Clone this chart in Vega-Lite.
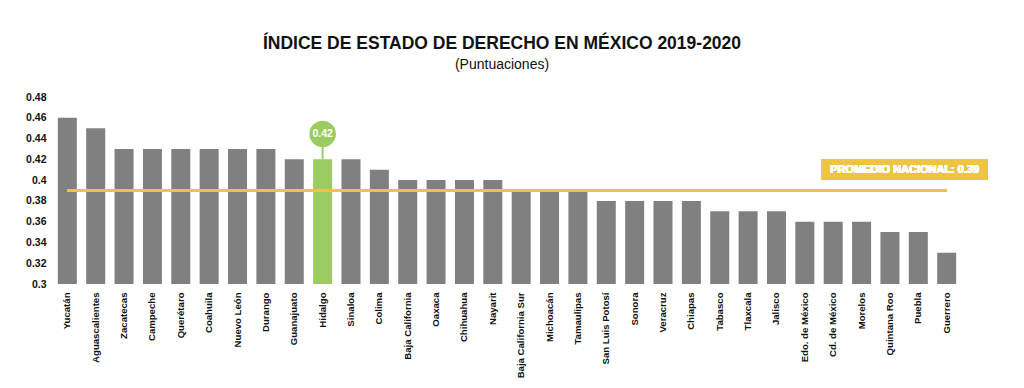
{
  "$schema": "https://vega.github.io/schema/vega-lite/v6.json",
  "autosize": "none",
  "width": 908,
  "height": 187,
  "padding": {"left": 53, "top": 97, "right": 63, "bottom": 104},
  "background": "white",
  "title": {
    "text": "ÍNDICE DE ESTADO DE DERECHO EN MÉXICO 2019-2020",
    "subtitle": "(Puntuaciones)",
    "font": "Liberation Sans",
    "fontSize": 17.5,
    "fontWeight": "bold",
    "color": "#111111",
    "subtitleFont": "Liberation Sans",
    "subtitleFontSize": 14,
    "subtitleColor": "#111111",
    "subtitlePadding": 6,
    "anchor": "middle",
    "dx": -5,
    "offset": 20
  },
  "data": {
    "values": [
      {"estado": "Yucatán", "valor": 0.46},
      {"estado": "Aguascalientes", "valor": 0.45},
      {"estado": "Zacatecas", "valor": 0.43},
      {"estado": "Campeche", "valor": 0.43},
      {"estado": "Querétaro", "valor": 0.43},
      {"estado": "Coahuila", "valor": 0.43},
      {"estado": "Nuevo León", "valor": 0.43},
      {"estado": "Durango", "valor": 0.43},
      {"estado": "Guanajuato", "valor": 0.42},
      {"estado": "Hidalgo", "valor": 0.42},
      {"estado": "Sinaloa", "valor": 0.42},
      {"estado": "Colima", "valor": 0.41},
      {"estado": "Baja California", "valor": 0.40},
      {"estado": "Oaxaca", "valor": 0.40},
      {"estado": "Chihuahua", "valor": 0.40},
      {"estado": "Nayarit", "valor": 0.40},
      {"estado": "Baja California Sur", "valor": 0.39},
      {"estado": "Michoacán", "valor": 0.39},
      {"estado": "Tamaulipas", "valor": 0.39},
      {"estado": "San Luis Potosí", "valor": 0.38},
      {"estado": "Sonora", "valor": 0.38},
      {"estado": "Veracruz", "valor": 0.38},
      {"estado": "Chiapas", "valor": 0.38},
      {"estado": "Tabasco", "valor": 0.37},
      {"estado": "Tlaxcala", "valor": 0.37},
      {"estado": "Jalisco", "valor": 0.37},
      {"estado": "Edo. de México", "valor": 0.36},
      {"estado": "Cd. de México", "valor": 0.36},
      {"estado": "Morelos", "valor": 0.36},
      {"estado": "Quintana Roo", "valor": 0.35},
      {"estado": "Puebla", "valor": 0.35},
      {"estado": "Guerrero", "valor": 0.33}
    ]
  },
  "config": {
    "view": {"stroke": null},
    "font": "Liberation Sans",
    "axisY": {
      "title": null, "grid": false, "domain": false, "ticks": false,
      "labelFont": "Liberation Sans", "labelFontSize": 10.5, "labelFontWeight": "bold",
      "labelColor": "#111111", "labelPadding": 7, "labelOverlap": false, "tickCount": 10
    }
  },
  "layer": [
    {
      "mark": {"type": "bar", "clip": true},
      "encoding": {
        "x": {
          "field": "estado", "type": "nominal", "sort": null,
          "scale": {"paddingInner": 0.33, "paddingOuter": 0.17},
          "axis": {
            "title": null, "labelAngle": -90, "labelFont": "Liberation Sans",
            "labelFontSize": 9.6, "labelFontWeight": "bold", "labelColor": "#111111",
            "ticks": false, "domain": false, "labelPadding": 8, "labelOverlap": false
          }
        },
        "y": {
          "field": "valor", "type": "quantitative",
          "scale": {"domain": [0.3, 0.48], "nice": false, "zero": false},
          "axis": {"values": [0.3, 0.32, 0.34, 0.36, 0.38, 0.4, 0.42, 0.44, 0.46, 0.48], "format": ".2~f", "labelOverlap": false}
        },
        "color": {
          "condition": {"test": "datum.estado === 'Hidalgo'", "value": "#9CCB62"},
          "value": "#808080"
        }
      }
    },
    {
      "transform": [{"filter": "datum.estado === 'Hidalgo'"}],
      "mark": {"type": "rule", "color": "#9CCB62", "strokeWidth": 2},
      "encoding": {
        "x": {"field": "estado", "type": "nominal", "sort": null},
        "y": {"field": "valor", "type": "quantitative", "axis": {"values": [0.3, 0.32, 0.34, 0.36, 0.38, 0.4, 0.42, 0.44, 0.46, 0.48], "format": ".2~f", "labelOverlap": false}},
        "y2": {"datum": 0.4445}
      }
    },
    {
      "transform": [{"filter": "datum.estado === 'Hidalgo'"}],
      "mark": {"type": "point", "filled": true, "opacity": 1, "color": "#9CCB62", "size": 700, "shape": "circle"},
      "encoding": {
        "x": {"field": "estado", "type": "nominal", "sort": null},
        "y": {"datum": 0.4445, "axis": {"values": [0.3, 0.32, 0.34, 0.36, 0.38, 0.4, 0.42, 0.44, 0.46, 0.48], "format": ".2~f", "labelOverlap": false}}
      }
    },
    {
      "transform": [{"filter": "datum.estado === 'Hidalgo'"}],
      "mark": {"type": "text", "color": "white", "fontWeight": "bold", "fontSize": 10.5, "font": "Liberation Sans", "baseline": "middle"},
      "encoding": {
        "x": {"field": "estado", "type": "nominal", "sort": null},
        "y": {"datum": 0.4445, "axis": {"values": [0.3, 0.32, 0.34, 0.36, 0.38, 0.4, 0.42, 0.44, 0.46, 0.48], "format": ".2~f", "labelOverlap": false}},
        "text": {"field": "valor", "type": "quantitative", "format": ".2f"}
      }
    },
    {
      "mark": {"type": "rule", "color": "#EFC445", "strokeWidth": 3},
      "encoding": {
        "x": {"datum": "Yucatán"},
        "x2": {"datum": "Guerrero"},
        "y": {"datum": 0.39, "axis": {"values": [0.3, 0.32, 0.34, 0.36, 0.38, 0.4, 0.42, 0.44, 0.46, 0.48], "format": ".2~f", "labelOverlap": false}}
      }
    },
    {
      "mark": {"type": "bar", "color": "#EFC445", "width": 166, "xOffset": -42, "clip": false},
      "encoding": {
        "x": {"datum": "Guerrero"},
        "y": {"datum": 0.4195, "axis": {"values": [0.3, 0.32, 0.34, 0.36, 0.38, 0.4, 0.42, 0.44, 0.46, 0.48], "format": ".2~f", "labelOverlap": false}},
        "y2": {"datum": 0.4005}
      }
    },
    {
      "mark": {"type": "text", "color": "white", "fontWeight": "bold", "fontSize": 11, "font": "Liberation Sans", "xOffset": -42, "baseline": "middle"},
      "encoding": {
        "x": {"datum": "Guerrero"},
        "y": {"datum": 0.41, "axis": {"values": [0.3, 0.32, 0.34, 0.36, 0.38, 0.4, 0.42, 0.44, 0.46, 0.48], "format": ".2~f", "labelOverlap": false}},
        "text": {"value": "PROMEDIO NACIONAL: 0.39"}
      }
    }
  ]
}
